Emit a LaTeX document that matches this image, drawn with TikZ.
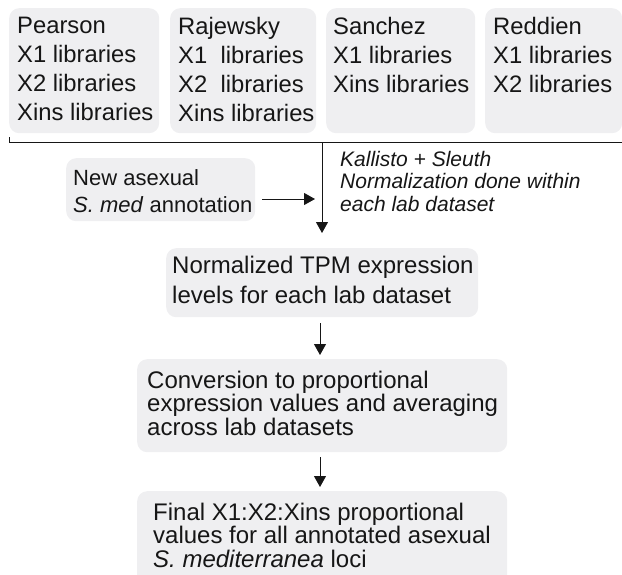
\documentclass[tikz,border=0pt]{standalone}
\usepackage{fontspec}
\setmainfont{Liberation Sans}
\usetikzlibrary{arrows.meta,calc}
\definecolor{boxgray}{RGB}{239,239,241}
\definecolor{ink}{RGB}{22,22,22}
\begin{document}
\begin{tikzpicture}[x=1pt,y=-1pt,
  box/.style={fill=boxgray,draw=none,rounded corners=10pt,inner sep=0pt,anchor=north west},
  toptxt/.style={anchor=north west,inner sep=0pt,align=left,text=ink,font=\fontsize{23.8}{29}\selectfont},
  midtxt/.style={anchor=north west,inner sep=0pt,align=left,text=ink,font=\fontsize{24}{30}\selectfont},
  lowtxt/.style={anchor=north west,inner sep=0pt,align=left,text=ink,font=\fontsize{24}{23.5}\selectfont},
  newtxt/.style={anchor=north west,inner sep=0pt,align=left,text=ink,font=\fontsize{22}{27}\selectfont},
  ittxt/.style={anchor=north west,inner sep=0pt,align=left,text=ink,font=\fontsize{21}{22.5}\selectfont\itshape},
  conn/.style={draw=ink,line width=1pt},
  arr/.style={conn,-{Triangle[width=12pt,length=11pt]}}]
\useasboundingbox (0,0) rectangle (622,574);
% top lab boxes
\node[box,minimum width=150pt,minimum height=125pt] (pbox) at (9,8) {};
\node[box,minimum width=146pt,minimum height=125pt] (rbox) at (170,8) {};
\node[box,minimum width=149pt,minimum height=125pt] (sbox) at (326,8) {};
\node[box,minimum width=137pt,minimum height=125pt] (dbox) at (485,8) {};
\node[toptxt] (ptxt) at (17,17) {Pearson\\X1 libraries\\X2 libraries\\Xins libraries};
\node[toptxt] (rtxt) at (178,17) {Rajewsky\\X1\ \ libraries\\X2\ \ libraries\\Xins libraries};
\node[toptxt] (stxt) at (333,17) {Sanchez\\X1 libraries\\Xins libraries};
\node[toptxt] (dtxt) at (493,17) {Reddien\\X1 libraries\\X2 libraries};
% bracket line
\coordinate (lt) at (9,137);
\coordinate (ll) at (9,142);
\coordinate (lr) at (622,142);
\coordinate (split) at (322,142);
\draw[conn] (lt) -- (ll) -- (lr);
% annotation box
\node[box,minimum width=189pt,minimum height=63pt] (nbox) at (66,158) {};
\node[newtxt] (ntxt) at (73,169.2) {New asexual\\\textit{S. med} annotation};
\coordinate (hend) at (315,199);
\draw[arr] (nbox.east |- hend) ++(7pt,0) -- (hend);
% italic note
\node[ittxt] (note) at (340,151) {Kallisto + Sleuth\\Normalization done within\\each lab dataset};
% normalized box
\node[box,minimum width=312pt,minimum height=69pt] (tbox) at (166,248) {};
\node[midtxt] (ttxt) at (172,255.8) {Normalized TPM expression\\levels for each lab dataset};
\coordinate (vend) at (322,233);
\draw[arr] (split) -- (vend);
% conversion box
\node[box,minimum width=370pt,minimum height=93pt] (cbox) at (137,359) {};
\node[lowtxt] (ctxt) at (147,370.8) {Conversion to proportional\\expression values and averaging\\across lab datasets};
\coordinate (a1s) at (320,323);
\coordinate (a1e) at (320,355);
\draw[arr] (a1s) -- (a1e);
% final box
\node[box,minimum width=370pt,minimum height=100pt] (fbox) at (137,491) {};
\node[lowtxt] (ftxt) at (153,502.8) {Final X1:X2:Xins proportional\\values for all annotated asexual\\\textit{S. mediterranea} loci};
\coordinate (a2s) at (320,457);
\coordinate (a2e) at (320,487);
\draw[arr] (a2s) -- (a2e);
\end{tikzpicture}
\end{document}
